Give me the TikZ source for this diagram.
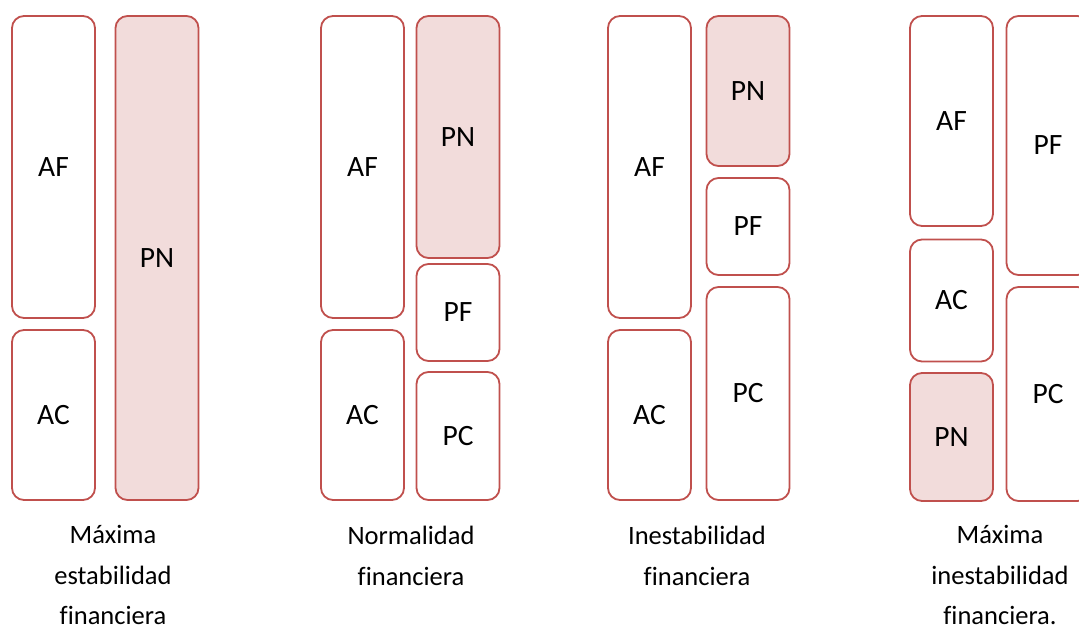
\documentclass[tikz,border=0pt]{standalone}
\usepackage{fontspec}
\setmainfont[Ligatures=NoCommon]{Carlito}
\usepackage{tikz}
\usetikzlibrary{positioning}

\definecolor{borde}{RGB}{192,80,77}
\definecolor{relleno}{RGB}{242,220,219}

\begin{document}
\begin{tikzpicture}[
        x=1pt, y=-1pt,
        every node/.style={font=\fontsize{29.5}{34}\selectfont},
        cuenta/.style={rectangle, rounded corners=12pt, draw=borde, line width=1.8pt, fill=white, minimum width=83pt, inner sep=0pt},
        neto/.style={cuenta, fill=relleno},
        leyenda/.style={align=center, inner sep=0pt, font=\fontsize{26.5}{40.5}\selectfont}
    ]
    \useasboundingbox (0,0) rectangle (1079,628);
    \clip (0,0) rectangle (1079,628);

    % Maxima estabilidad
    \node[cuenta, minimum height=302pt] (af1) at (53.5,167) {AF};
    \node[cuenta, minimum height=170pt] (ac1) at (53.5,415) {AC};
    \node[neto, minimum height=484pt] (pn1) at (157,258) {PN};
    \node[leyenda] (t1) at (113,575) {Máxima\\estabilidad\\financiera};

    % Normalidad
    \node[cuenta, minimum height=302pt] (af2) at (362.5,167) {AF};
    \node[cuenta, minimum height=170pt] (ac2) at (362.5,415) {AC};
    \node[neto, minimum height=242pt] (pn2) at (458,137) {PN};
    \node[cuenta, minimum height=97pt] (pf2) at (458,312.5) {PF};
    \node[cuenta, minimum height=128pt] (pc2) at (458,436) {PC};
    \node[leyenda] (t2) at (411,556) {Normalidad\\financiera};

    % Inestabilidad
    \node[cuenta, minimum height=302pt] (af3) at (649.5,167) {AF};
    \node[cuenta, minimum height=170pt] (ac3) at (649.5,415) {AC};
    \node[neto, minimum height=150pt] (pn3) at (748,91) {PN};
    \node[cuenta, minimum height=97pt] (pf3) at (748,226.5) {PF};
    \node[cuenta, minimum height=213pt] (pc3) at (748,393.5) {PC};
    \node[leyenda] (t3) at (697,556) {Inestabilidad\\financiera};

    % Maxima inestabilidad
    \node[cuenta, minimum height=210pt] (af4) at (951.5,121) {AF};
    \node[cuenta, minimum height=122pt] (ac4) at (951.5,300.5) {AC};
    \node[neto, minimum height=128pt] (pn4) at (951.5,437) {PN};
    \node[cuenta, minimum height=259pt] (pf4) at (1048,145.5) {PF};
    \node[cuenta, minimum height=214pt] (pc4) at (1048,394) {PC};
    \node[leyenda] (t4) at (1000,575) {Máxima\\inestabilidad\\financiera.};

\end{tikzpicture}
\end{document}
